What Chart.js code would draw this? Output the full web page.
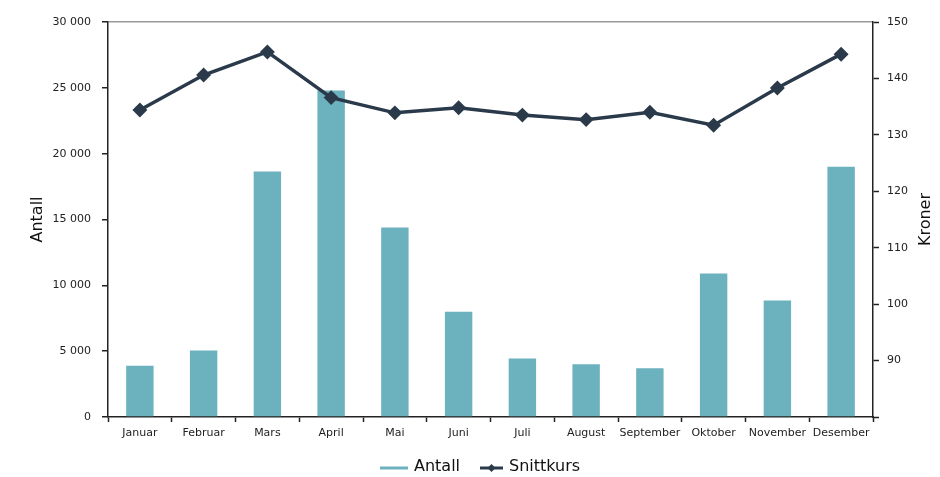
<!DOCTYPE html>
<html>
<head>
<meta charset="utf-8">
<script src="https://cdn.jsdelivr.net/npm/chart.js@4.4.1/dist/chart.umd.min.js"></script>
<style>
    html, body { margin: 0; padding: 0; background: #fff; }
    #wrap { width: 940px; height: 477px; }
</style>
</head>
<body>
<div id="wrap"><canvas id="chart" width="940" height="477"></canvas></div>
<script>
// Data
const months = ['Januar', 'Februar', 'Mars', 'April', 'Mai', 'Juni', 'Juli', 'August', 'September', 'Oktober', 'November', 'Desember'];
const antall = [3900, 5050, 18650, 24800, 14400, 8000, 4450, 4000, 3700, 10900, 8850, 19000];
const snittkurs = [134.4, 140.6, 144.7, 136.6, 133.9, 134.8, 133.5, 132.7, 134.0, 131.7, 138.3, 144.3];
const leftTicks = [0, 5000, 10000, 15000, 20000, 25000, 30000];
const rightTicks = [80, 90, 100, 110, 120, 130, 140, 150];

const barColor = '#6cb1be';
const lineColor = '#2b3a4b';
const fontFamily = '"DejaVu Sans", sans-serif';

const formatThousands = (v) => String(v).replace(/\B(?=(\d{3})+(?!\d))/g, ' ');

// Right axis title (reads bottom to top) and the legend below the x axis
const extras = {
    id: 'extras',
    afterDraw(chart) {
        const ctx = chart.ctx;
        const area = chart.chartArea;
        ctx.save();
        ctx.fillStyle = '#111';
        ctx.font = '16px ' + fontFamily;
        ctx.textBaseline = 'middle';

        ctx.save();
        ctx.translate(926, area.top + (area.bottom - area.top) / 2);
        ctx.rotate(-Math.PI / 2);
        ctx.textAlign = 'center';
        ctx.fillText('Kroner', 0, 0);
        ctx.restore();

        // Legend
        const ly = 467;
        ctx.textAlign = 'left';
        ctx.lineWidth = 3;
        ctx.strokeStyle = barColor;
        ctx.beginPath();
        ctx.moveTo(380, ly + 1);
        ctx.lineTo(408, ly + 1);
        ctx.stroke();
        ctx.fillText(chart.data.datasets[1].label, 414, ly);

        ctx.strokeStyle = lineColor;
        ctx.fillStyle = lineColor;
        ctx.beginPath();
        ctx.moveTo(480, ly + 1);
        ctx.lineTo(503, ly + 1);
        ctx.stroke();
        ctx.beginPath();
        ctx.moveTo(491.5, ly - 3);
        ctx.lineTo(495.5, ly + 1);
        ctx.lineTo(491.5, ly + 5);
        ctx.lineTo(487.5, ly + 1);
        ctx.closePath();
        ctx.fill();
        ctx.fillStyle = '#111';
        ctx.fillText(chart.data.datasets[0].label, 509, ly);
        ctx.restore();
    }
};

new Chart(document.getElementById('chart'), {
    data: {
        labels: months,
        datasets: [
            {
                type: 'line',
                label: 'Snittkurs',
                data: snittkurs,
                yAxisID: 'y1',
                borderColor: lineColor,
                backgroundColor: lineColor,
                borderWidth: 3.5,
                pointStyle: 'rectRot',
                pointRadius: 5,
                pointHoverRadius: 5,
                tension: 0,
                order: 0
            },
            {
                type: 'bar',
                label: 'Antall',
                data: antall,
                yAxisID: 'y',
                backgroundColor: barColor,
                borderWidth: 0,
                barPercentage: 0.43,
                categoryPercentage: 1,
                order: 1
            }
        ]
    },
    options: {
        responsive: false,
        animation: false,
        layout: { padding: { top: 22, left: 0, right: 0, bottom: 21 } },
        plugins: {
            tooltip: { enabled: false },
            legend: { display: false }
        },
        scales: {
            x: {
                grid: {
                    offset: true,
                    drawOnChartArea: false,
                    tickLength: 5,
                    tickColor: '#222',
                    tickWidth: 1.5
                },
                border: { color: '#222', width: 1.5 },
                ticks: {
                    color: '#222',
                    padding: 5,
                    autoSkip: false,
                    maxRotation: 0,
                    font: { family: fontFamily, size: 11 }
                },
                afterFit: (scale) => { scale.height = 39; }
            },
            y: {
                position: 'left',
                min: 0,
                max: 30000,
                afterBuildTicks: (scale) => { scale.ticks = leftTicks.map(v => ({ value: v })); },
                grid: {
                    drawOnChartArea: true,
                    color: (c) => c.tick && c.tick.value === 30000 ? '#9a9a9a' : 'rgba(0,0,0,0)',
                    lineWidth: 1.5,
                    tickLength: 6,
                    tickColor: '#222',
                    tickWidth: 1.5
                },
                border: { color: '#222', width: 1.5 },
                ticks: {
                    color: '#222',
                    padding: 11,
                    font: { family: fontFamily, size: 11 },
                    callback: (v) => formatThousands(v)
                },
                title: {
                    display: true,
                    text: 'Antall',
                    color: '#111',
                    padding: { top: 28, bottom: 0 },
                    font: { family: fontFamily, size: 16 }
                },
                afterFit: (scale) => { scale.width = 108; }
            },
            y1: {
                position: 'right',
                min: 80,
                max: 150,
                afterBuildTicks: (scale) => { scale.ticks = rightTicks.map(v => ({ value: v })); },
                grid: {
                    drawOnChartArea: false,
                    tickLength: 6,
                    tickColor: '#222',
                    tickWidth: 1.5
                },
                border: { color: '#222', width: 1.5 },
                ticks: {
                    color: '#222',
                    padding: 8,
                    font: { family: fontFamily, size: 11 },
                    callback: (v) => v === 80 ? '' : v
                },
                afterFit: (scale) => { scale.width = 67; }
            }
        }
    },
    plugins: [extras]
});
</script>
</body>
</html>
